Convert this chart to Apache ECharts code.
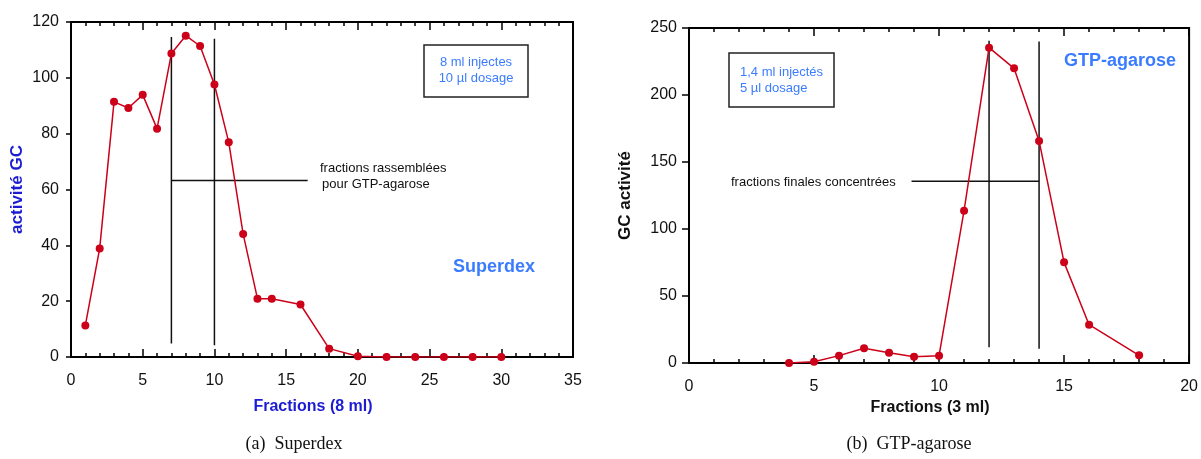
<!DOCTYPE html>
<html>
<head>
<meta charset="utf-8">
<script src="https://cdn.jsdelivr.net/npm/echarts@6/dist/echarts.min.js"></script>
<style>
html,body{margin:0;padding:0;background:#fff;}
#c{width:1201px;height:459px;}
</style>
</head>
<body>
<div id="c"></div>
<script>
// ---- Data: Superdex (left) ----
const superdexFractions = [1, 2, 3, 4, 5, 6, 7, 8, 9, 10, 11, 12, 13, 14, 16, 18, 20, 22, 24, 26, 28, 30];
const superdexActivity  = [11.3, 38.9, 91.4, 89.2, 93.9, 81.8, 108.7, 115.1, 111.4, 97.6, 76.9, 44.1, 20.9, 20.9, 18.8, 3.0, 0.3, 0, 0, 0, 0, 0];
// pooled fractions bracket (x,y pairs per segment)
const superdexBracket = [
  [[7, 114.6], [7, 4.8]],
  [[10, 114.0], [10, 4.2]],
  [[7, 63.2], [16.5, 63.2]]
];

// ---- Data: GTP-agarose (right) ----
const gtpFractions = [4, 5, 6, 7, 8, 9, 10, 11, 12, 13, 14, 15, 16, 18];
const gtpActivity  = [0, 1, 5.5, 11, 7.7, 4.7, 5.5, 113.7, 235.3, 219.9, 165.7, 75.1, 28.6, 5.7];
const gtpBracket = [
  [[12, 240.5], [12, 11.7]],
  [[14, 240.0], [14, 10.7]],
  [[8.9, 135.7], [14, 135.7]]
];

// ---- Axis ranges / ticks ----
const leftXRange = [0, 35], leftXStep = 5;
const leftYRange = [0, 120], leftYStep = 20;
const rightXRange = [0, 20], rightXStep = 5;
const rightYRange = [0, 250], rightYStep = 50;

const RED = '#cc0019';
const FONT = 'Liberation Sans, Arial, sans-serif';
const DARKBLUE = '#1c1cd2';
const LIGHTBLUE = '#3b7cff';

function pairs(xs, ys) { return xs.map((x, i) => [x, ys[i]]); }

function bottomAxis(gi, range, step, name, nameColor, gap) {
  return {
    gridIndex: gi, type: 'value', position: 'bottom',
    min: range[0], max: range[1], interval: step,
    name: name, nameLocation: 'middle', nameGap: gap,
    nameTextStyle: { fontFamily: FONT, fontWeight: 'bold', fontSize: 16, color: nameColor, padding: [0, 18, 0, 0] },
    axisLine: { show: true, onZero: false, lineStyle: { color: '#000', width: 2 } },
    axisTick: { show: true, inside: true, length: 8, lineStyle: { color: '#000', width: 1.5 } },
    minorTick: { show: true, splitNumber: 5, length: 4, lineStyle: { color: '#000', width: 1.5 } },
    axisLabel: { fontFamily: FONT, fontSize: 16, color: '#111', margin: 16 },
    splitLine: { show: false }
  };
}
function topAxis(gi, range, step) {
  return {
    gridIndex: gi, type: 'value', position: 'top',
    min: range[0], max: range[1], interval: step,
    axisLine: { show: true, onZero: false, lineStyle: { color: '#000', width: 2 } },
    axisTick: { show: true, inside: true, length: 8, lineStyle: { color: '#000', width: 1.5 } },
    minorTick: { show: true, splitNumber: 5, length: 4, lineStyle: { color: '#000', width: 1.5 } },
    axisLabel: { show: false },
    splitLine: { show: false }
  };
}
function leftAxis(gi, range, step, name, nameColor, gap, tickLen) {
  return {
    gridIndex: gi, type: 'value', position: 'left',
    min: range[0], max: range[1], interval: step,
    name: name, nameLocation: 'middle', nameGap: gap,
    nameTextStyle: { fontFamily: FONT, fontWeight: 'bold', fontSize: 17, color: nameColor },
    axisLine: { show: true, onZero: false, lineStyle: { color: '#000', width: 2 } },
    axisTick: { show: true, inside: false, length: tickLen, lineStyle: { color: '#000', width: 1.5 } },
    axisLabel: { fontFamily: FONT, fontSize: 16, color: '#111', margin: 12 },
    splitLine: { show: false }
  };
}

const dataSeries = (xi, yi, xs, ys) => ({
  type: 'line', xAxisIndex: xi, yAxisIndex: yi,
  data: pairs(xs, ys),
  symbol: 'circle', symbolSize: 8,
  itemStyle: { color: RED },
  lineStyle: { color: RED, width: 1.5 },
  z: 5, animation: false
});
const bracketSeries = (xi, yi, segs) => segs.map(seg => ({
  type: 'line', xAxisIndex: xi, yAxisIndex: yi,
  data: seg, symbol: 'none',
  lineStyle: { color: '#111', width: 1.5 },
  z: 3, animation: false, silent: true
}));

const chart = echarts.init(document.getElementById('c'), null, { renderer: 'canvas' });
chart.setOption({
  animation: false,
  backgroundColor: '#fff',
  grid: [
    { left: 71, top: 22, width: 502, height: 335, show: true, borderColor: '#000', borderWidth: 2, backgroundColor: 'transparent' },
    { left: 689, top: 28, width: 503, height: 335, show: true, borderColor: '#000', borderWidth: 2, backgroundColor: 'transparent' }
  ],
  xAxis: [
    bottomAxis(0, leftXRange, leftXStep, 'Fractions (8 ml)', DARKBLUE, 42),
    topAxis(0, leftXRange, leftXStep),
    bottomAxis(1, rightXRange, rightXStep, 'Fractions (3 ml)', '#111', 37),
    topAxis(1, rightXRange, rightXStep)
  ],
  yAxis: [
    leftAxis(0, leftYRange, leftYStep, 'activité GC', DARKBLUE, 45, 5),
    leftAxis(1, rightYRange, rightYStep, 'GC activité', '#111', 55, 7)
  ],
  series: [
    ...bracketSeries(0, 0, superdexBracket),
    dataSeries(0, 0, superdexFractions, superdexActivity),
    ...bracketSeries(2, 1, gtpBracket),
    dataSeries(2, 1, gtpFractions, gtpActivity)
  ],
  graphic: [
    // left info box
    { type: 'rect', shape: { x: 424, y: 45, width: 104, height: 52 }, style: { fill: '#fff', stroke: '#222', lineWidth: 1.5 }, z: 10 },
    { type: 'text', x: 476, y: 62, style: { text: '8 ml injectes', font: '13px ' + FONT, fill: LIGHTBLUE, align: 'center', verticalAlign: 'middle' }, z: 11 },
    { type: 'text', x: 476, y: 78, style: { text: '10 µl dosage', font: '13px ' + FONT, fill: LIGHTBLUE, align: 'center', verticalAlign: 'middle' }, z: 11 },
    { type: 'text', x: 494, y: 267, style: { text: 'Superdex', font: 'bold 18px ' + FONT, fill: LIGHTBLUE, align: 'center', verticalAlign: 'middle' }, z: 11 },
    { type: 'text', x: 320, y: 168, style: { text: 'fractions rassemblées', font: '13px ' + FONT, fill: '#111', align: 'left', verticalAlign: 'middle' }, z: 11 },
    { type: 'text', x: 322, y: 184, style: { text: 'pour GTP-agarose', font: '13px ' + FONT, fill: '#111', align: 'left', verticalAlign: 'middle' }, z: 11 },
    // right info box
    { type: 'rect', shape: { x: 729, y: 53, width: 105, height: 54 }, style: { fill: '#fff', stroke: '#222', lineWidth: 1.5 }, z: 10 },
    { type: 'text', x: 740, y: 72, style: { text: '1,4 ml injectés', font: '13px ' + FONT, fill: LIGHTBLUE, align: 'left', verticalAlign: 'middle' }, z: 11 },
    { type: 'text', x: 740, y: 88, style: { text: '5 µl dosage', font: '13px ' + FONT, fill: LIGHTBLUE, align: 'left', verticalAlign: 'middle' }, z: 11 },
    { type: 'text', x: 1120, y: 61, style: { text: 'GTP-agarose', font: 'bold 18px ' + FONT, fill: LIGHTBLUE, align: 'center', verticalAlign: 'middle' }, z: 11 },
    { type: 'text', x: 731, y: 182, style: { text: 'fractions finales concentrées', font: '13px ' + FONT, fill: '#111', align: 'left', verticalAlign: 'middle' }, z: 11 },
    // captions
    { type: 'text', x: 294, y: 444, style: { text: '(a)  Superdex', font: '18px Liberation Serif, DejaVu Serif, serif', fill: '#111', align: 'center', verticalAlign: 'middle' }, z: 11 },
    { type: 'text', x: 909, y: 444, style: { text: '(b)  GTP-agarose', font: '18px Liberation Serif, DejaVu Serif, serif', fill: '#111', align: 'center', verticalAlign: 'middle' }, z: 11 }
  ]
});
</script>
</body>
</html>
